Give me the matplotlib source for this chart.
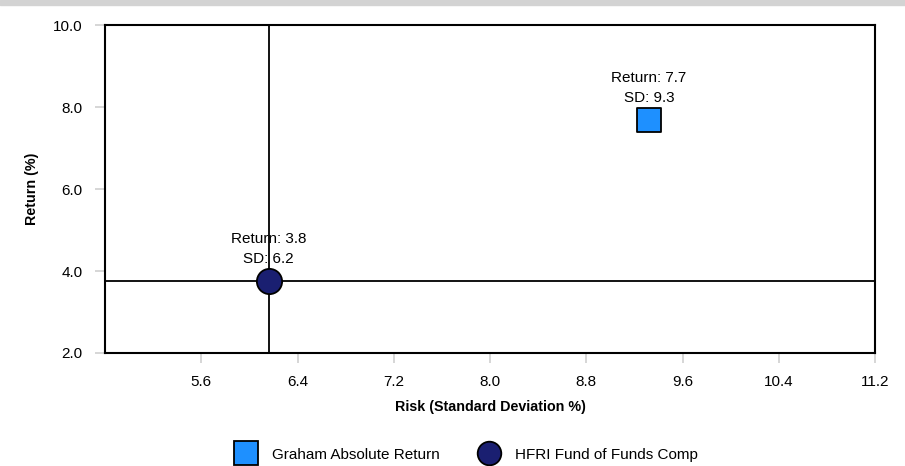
import matplotlib.pyplot as plt
from matplotlib.lines import Line2D

plt.rcParams['font.family'] = ['Liberation Sans', 'DejaVu Sans']

names = ["Graham Absolute Return", "HFRI Fund of Funds Comp"]
risk = [9.32, 6.16]
ret = [7.68, 3.75]
risk_lbl = ["9.3", "6.2"]
ret_lbl = ["7.7", "3.8"]
markers = ["s", "o"]
colors = ["#1e90ff", "#1a1f71"]
xticks = [5.6, 6.4, 7.2, 8.0, 8.8, 9.6, 10.4, 11.2]
yticks = [2.0, 4.0, 6.0, 8.0, 10.0]

fig = plt.figure(figsize=(9.05, 4.66), dpi=100)
fig.patches.append(plt.Rectangle((0, 0.989), 1, 0.011, transform=fig.transFigure,
                                 color="#d3d3d3", zorder=0))
ax = fig.add_axes([0.116, 0.2425, 0.851, 0.7035])

# crosshair through benchmark
ax.axvline(risk[1], color="black", lw=1.3, zorder=1)
ax.axhline(ret[1], color="black", lw=1.3, zorder=1)

handles = []
for i in range(len(names)):
    ax.scatter(risk[i], ret[i], marker=markers[i], s=280 if i == 0 else 330,
               color=colors[i], edgecolor="black", linewidth=1.3, zorder=3)
    ax.annotate("Return: " + ret_lbl[i] + "\nSD: " + risk_lbl[i],
                xy=(risk[i], ret[i]), xytext=(0, 11), textcoords="offset points",
                ha="center", va="bottom", fontsize=11, linespacing=1.55, zorder=4)
    handles.append(Line2D([], [], marker=markers[i], ls="none", markersize=17,
                          markerfacecolor=colors[i], markeredgecolor="black",
                          markeredgewidth=1.3, label=names[i]))

ax.set_xlim(4.8, 11.2)
ax.set_ylim(2.0, 10.0)
ax.set_xticks(xticks)
ax.set_xticklabels([f"{v:.1f}" for v in xticks])
ax.set_yticks(yticks)
ax.set_yticklabels([f"{v:.1f}" for v in yticks])
ax.tick_params(length=7, width=1.2, color="#d0d0d0", labelsize=11, pad=9)
for s in ax.spines.values():
    s.set_linewidth(1.5)

ax.set_xlabel("Risk (Standard Deviation %)", fontsize=10.3, fontweight="bold", labelpad=8)
ax.set_ylabel("Return (%)", fontsize=10.3, fontweight="bold", labelpad=10)

fig.legend(handles=handles, loc="center", bbox_to_anchor=(0.513, 0.024), ncol=2,
           frameon=False, fontsize=11, columnspacing=2.2, handletextpad=0.7)

plt.savefig("out.png")
